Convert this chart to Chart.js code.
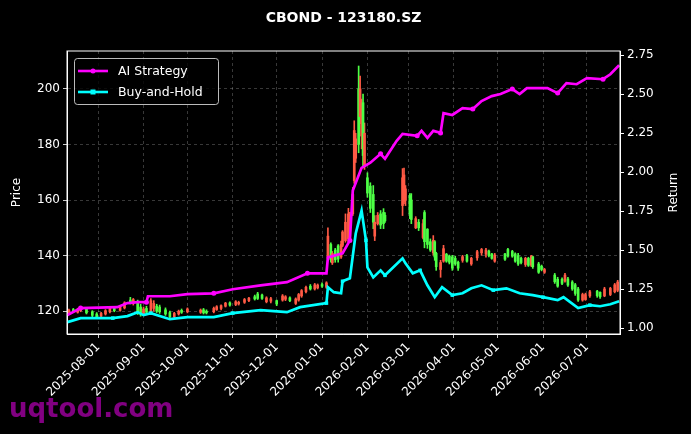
<!DOCTYPE html>
<html>
<head>
<meta charset="utf-8">
<script src="https://cdn.jsdelivr.net/npm/chart.js@4.4.1/dist/chart.umd.min.js"></script>
<style>
  html, body { margin: 0; padding: 0; background: #000; }
</style>
</head>
<body>
<canvas id="c" width="691" height="434"></canvas>
<script>
const chartTitle = "CBOND - 123180.SZ";
const priceLabel = "Price";
const returnLabel = "Return";
const watermark = "uqtool.com";

// daily candles (price, left axis)
const candleDates = [
  "2025-07-12","2025-07-15","2025-07-18","2025-07-20","2025-07-24","2025-07-28","2025-07-31",
  "2025-08-03","2025-08-06","2025-08-09","2025-08-12","2025-08-16","2025-08-19","2025-08-23","2025-08-25","2025-08-28","2025-08-30",
  "2025-09-01","2025-09-03","2025-09-06","2025-09-08","2025-09-10","2025-09-12","2025-09-16","2025-09-19","2025-09-22","2025-09-25","2025-09-27",
  "2025-10-01","2025-10-10","2025-10-12","2025-10-14","2025-10-19","2025-10-21","2025-10-24","2025-10-27","2025-10-30",
  "2025-11-03","2025-11-05","2025-11-09","2025-11-12","2025-11-16","2025-11-18","2025-11-21","2025-11-24","2025-11-27",
  "2025-12-01","2025-12-05","2025-12-07","2025-12-10","2025-12-14","2025-12-16","2025-12-18","2025-12-21","2025-12-24","2025-12-27","2025-12-29",
  "2026-01-01","2026-01-04","2026-01-05","2026-01-07","2026-01-08","2026-01-10","2026-01-12","2026-01-14","2026-01-15","2026-01-17",
  "2026-01-19","2026-01-20","2026-01-22","2026-01-23","2026-01-24","2026-01-26","2026-01-27","2026-01-28","2026-01-29","2026-01-30",
  "2026-02-01","2026-02-03","2026-02-05","2026-02-06","2026-02-08","2026-02-10","2026-02-12","2026-02-13","2026-02-25","2026-02-26","2026-02-27",
  "2026-03-02","2026-03-03","2026-03-06","2026-03-08","2026-03-11","2026-03-12","2026-03-14","2026-03-16","2026-03-18","2026-03-19",
  "2026-03-20","2026-03-23","2026-03-25","2026-03-27","2026-03-29","2026-03-31",
  "2026-04-02","2026-04-04","2026-04-07","2026-04-10","2026-04-13","2026-04-17","2026-04-20","2026-04-23","2026-04-25","2026-04-27","2026-04-29",
  "2026-05-06","2026-05-08","2026-05-11","2026-05-13","2026-05-15","2026-05-17","2026-05-20","2026-05-22","2026-05-24","2026-05-25","2026-05-29","2026-05-31",
  "2026-06-02","2026-06-09","2026-06-11","2026-06-14","2026-06-16","2026-06-18","2026-06-21","2026-06-23","2026-06-25","2026-06-28","2026-06-30",
  "2026-07-03","2026-07-08","2026-07-10","2026-07-13","2026-07-17","2026-07-20","2026-07-22"
];
const candleOpen = [
  119.6,120.6,119.6,120.2,120.8,119.8,119.0,
  118.2,119.0,119.8,121.0,120.3,121.2,124.0,122.8,123.5,121.5,
  119.0,121.0,119.5,121.0,121.8,121.5,120.5,119.5,118.0,119.0,120.3,
  119.8,119.6,120.5,120.0,119.8,120.6,121.0,121.8,123.0,
  122.4,122.6,123.2,123.8,125.2,126.2,125.8,123.4,123.6,
  123.8,124.0,124.3,124.8,122.8,124.0,125.5,127.0,129.0,128.0,128.4,
  129.6,128.6,139.0,144.0,137.4,142.0,143.5,139.5,143.7,145.4,
  146.0,150.0,155.0,167.0,175.0,200.0,190.0,183.0,195.0,172.0,
  168.0,165.0,162.0,147.0,151.5,155.0,155.5,154.5,158.0,159.5,160.0,
  161.6,160.0,150.0,152.0,146.5,155.5,149.5,145.0,141.0,145.0,
  140.8,135.0,138.0,140.5,139.8,139.5,
  139.0,137.6,138.3,140.0,137.0,139.2,141.0,140.5,141.6,140.6,138.0,
  140.6,142.2,141.5,140.6,140.0,139.0,136.8,139.0,136.5,139.6,137.0,136.2,
  134.0,133.0,131.5,131.5,130.8,131.6,130.5,129.5,128.0,124.0,124.2,
  125.5,127.2,126.8,125.5,126.0,127.0,127.5
];
const candleHigh = [
  120.8,121.0,121.1,121.3,121.0,120.2,119.5,
  119.6,120.6,121.3,121.4,121.8,123.4,125.0,124.6,124.0,122.5,
  121.5,121.8,124.5,123.8,122.5,122.2,121.2,120.0,119.6,120.4,120.8,
  121.2,120.8,121.0,120.5,121.5,122.0,122.3,123.2,123.4,
  123.8,123.6,124.6,125.0,125.8,126.8,126.2,125.2,125.0,
  124.0,126.0,125.6,125.2,124.8,126.4,127.8,129.0,129.6,130.0,129.8,
  130.2,130.6,150.0,144.6,141.5,142.6,144.0,145.2,149.0,155.0,
  157.0,155.6,164.5,188.5,184.0,208.2,204.6,196.3,198.1,187.7,
  169.8,166.2,165.2,154.4,155.5,156.2,156.9,155.5,171.3,171.5,165.2,
  162.3,162.3,154.0,153.0,153.0,156.2,149.7,146.0,147.2,145.4,
  141.2,138.3,143.7,140.8,140.2,140.1,
  139.8,138.0,140.1,140.5,139.4,141.9,142.6,142.6,142.0,140.8,140.8,
  140.8,142.6,141.9,141.0,140.8,139.5,139.4,139.4,140.1,139.8,137.6,136.6,
  135.4,133.6,132.2,132.0,133.6,132.2,131.0,130.0,128.6,126.5,126.5,
  127.5,127.5,127.0,128.6,128.6,130.0,131.1
];
const candleLow = [
  119.3,119.5,119.3,119.8,119.0,118.0,117.6,
  117.8,118.6,119.4,119.8,120.0,120.8,122.6,122.2,118.8,118.2,
  118.6,119.0,119.0,120.0,119.5,119.2,118.5,117.6,117.5,118.6,119.2,
  119.4,119.2,119.0,119.0,119.4,120.3,120.5,121.5,121.8,
  122.0,122.2,122.8,123.4,124.0,124.2,124.2,123.0,123.0,
  122.0,123.6,123.8,123.4,122.4,123.6,125.0,126.6,127.6,127.6,128.0,
  128.6,128.2,138.5,137.6,136.8,137.6,137.6,139.0,143.2,144.8,
  145.0,149.5,154.4,166.0,173.5,177.0,187.5,178.4,172.3,171.0,
  161.0,155.5,149.7,145.4,151.0,149.7,149.7,151.9,154.4,158.7,158.0,
  153.3,151.5,149.7,149.0,146.0,142.8,142.6,141.5,140.1,138.3,
  134.7,132.2,137.6,137.6,137.0,134.7,
  136.5,134.7,137.6,137.6,136.5,138.3,140.1,139.4,139.5,138.7,137.6,
  138.3,139.4,139.4,137.6,136.5,137.0,136.1,136.1,136.0,135.4,133.6,134.5,
  133.6,130.0,128.6,129.5,130.4,128.9,127.5,125.7,123.5,123.6,123.9,
  125.0,125.0,124.6,125.2,125.6,126.6,127.0
];
const candleClose = [
  120.4,119.8,120.7,121.0,119.4,118.5,118.0,
  119.2,120.2,121.0,120.2,121.5,123.0,123.0,124.2,119.6,119.0,
  120.8,119.6,123.8,122.8,120.0,119.8,119.0,118.0,119.2,120.0,119.6,
  120.8,120.4,119.4,119.4,121.0,121.6,122.0,122.9,122.2,
  123.4,123.2,124.2,124.7,124.4,124.6,124.6,124.8,124.5,
  122.6,125.5,125.2,123.8,124.4,126.0,127.4,128.6,128.0,129.5,129.4,
  129.0,130.2,147.0,138.5,140.8,138.5,138.8,144.0,148.5,152.0,
  155.0,154.5,162.0,185.0,182.0,180.0,200.0,193.0,176.0,184.0,
  162.5,157.0,152.0,152.0,154.5,151.0,151.5,152.5,168.0,169.0,164.0,
  155.0,153.0,153.3,150.0,151.5,145.0,144.0,142.0,145.5,139.5,
  136.0,137.5,142.5,138.0,137.6,135.5,
  137.0,135.5,139.6,138.0,139.0,141.4,142.2,142.0,140.0,139.0,140.2,
  138.7,139.8,139.8,138.0,137.0,137.5,139.0,136.5,139.8,136.0,134.0,135.0,
  135.0,130.6,129.0,130.0,133.0,129.4,128.0,126.4,124.0,126.0,126.0,
  127.0,125.6,125.2,128.0,128.2,129.5,130.5
];

// cumulative return (right axis)
const stratDates = [
  "2025-07-11","2025-07-20","2025-08-14","2025-08-21","2025-08-28","2025-09-03","2025-09-04","2025-09-19",
  "2025-10-01","2025-10-19","2025-11-01","2025-11-20","2025-12-08","2025-12-22","2026-01-04","2026-01-05",
  "2026-01-15","2026-01-20","2026-01-22","2026-01-28","2026-02-03","2026-02-10","2026-02-13","2026-02-21",
  "2026-02-25","2026-03-07","2026-03-10","2026-03-14","2026-03-18","2026-03-23","2026-03-25","2026-03-31",
  "2026-04-07","2026-04-14","2026-04-20","2026-04-27","2026-05-03","2026-05-11","2026-05-16","2026-05-21",
  "2026-06-04","2026-06-11","2026-06-17","2026-06-24","2026-07-01","2026-07-12","2026-07-17","2026-07-23"
];
const stratReturn = [
  1.083,1.128,1.134,1.160,1.166,1.166,1.204,1.204,
  1.217,1.223,1.249,1.274,1.294,1.351,1.351,1.453,
  1.479,1.562,1.881,2.027,2.060,2.117,2.085,2.200,
  2.244,2.232,2.264,2.219,2.264,2.251,2.378,2.366,
  2.410,2.404,2.455,2.487,2.500,2.532,2.500,2.538,
  2.538,2.506,2.570,2.563,2.602,2.595,2.627,2.685
];
const holdDates = [
  "2025-07-11","2025-07-20","2025-08-11","2025-08-21","2025-08-28","2025-09-01","2025-09-06","2025-09-19",
  "2025-10-01","2025-10-19","2025-11-01","2025-11-20","2025-12-08","2025-12-17","2026-01-04","2026-01-05",
  "2026-01-09","2026-01-14","2026-01-15","2026-01-20","2026-01-24","2026-01-28","2026-01-31","2026-02-01",
  "2026-02-05","2026-02-10","2026-02-13","2026-02-25","2026-02-27","2026-03-04","2026-03-09","2026-03-14",
  "2026-03-19","2026-03-24","2026-03-31","2026-04-07","2026-04-13","2026-04-20","2026-04-28","2026-05-07",
  "2026-05-16","2026-05-25","2026-06-01","2026-06-11","2026-06-15","2026-06-25","2026-07-03","2026-07-10",
  "2026-07-17","2026-07-23"
];
const holdReturn = [
  1.038,1.064,1.064,1.077,1.102,1.083,1.096,1.057,
  1.070,1.070,1.096,1.115,1.102,1.134,1.160,1.262,
  1.230,1.223,1.300,1.319,1.606,1.753,1.562,1.389,
  1.325,1.370,1.338,1.447,1.415,1.351,1.370,1.274,
  1.198,1.262,1.211,1.223,1.255,1.274,1.243,1.255,
  1.223,1.211,1.198,1.179,1.198,1.128,1.147,1.140,
  1.153,1.172
];

const xTickDates = [
  "2025-08-01","2025-09-01","2025-10-01","2025-11-01","2025-12-01","2026-01-01",
  "2026-02-01","2026-03-01","2026-04-01","2026-05-01","2026-06-01","2026-07-01"
];

// x axis is "days since 2025-08-01"
const day0 = Date.UTC(2025, 7, 1);
const toDay = s => (Date.parse(s + "T00:00:00Z") - day0) / 864e5;
const fmtDay = v => new Date(day0 + Math.round(v) * 864e5).toISOString().slice(0, 10);

const UP = "#ff5a45", DOWN = "#4dff45";
const candleColors = candleOpen.map((o, i) => (candleClose[i] >= o ? UP : DOWN));
const wickData = candleDates.map((d, i) => ({ x: toDay(d), y: [candleLow[i], candleHigh[i]] }));
const bodyData = candleDates.map((d, i) => ({ x: toDay(d), y: [candleOpen[i], candleClose[i]] }));
const stratData = stratDates.map((d, i) => ({ x: toDay(d), y: stratReturn[i] }));
const holdData = holdDates.map((d, i) => ({ x: toDay(d), y: holdReturn[i] }));

const FONT = "DejaVu Sans";
Chart.defaults.font.family = FONT;
Chart.defaults.color = "#fff";

const gridColor = "rgba(255,255,255,0.28)";

function vText(ctx, text, x, y) {
  ctx.save();
  ctx.translate(x, y);
  ctx.rotate(-Math.PI / 2);
  ctx.fillText(text, 0, 0);
  ctx.restore();
}

const decor = {
  id: "decor",
  beforeDraw(chart) {
    const ctx = chart.ctx;
    ctx.save();
    ctx.fillStyle = "#000";
    ctx.fillRect(0, 0, chart.width, chart.height);
    ctx.restore();
  },
  afterDraw(chart) {
    const ctx = chart.ctx;
    const a = chart.chartArea;
    ctx.save();
    // frame
    ctx.strokeStyle = "#fff";
    ctx.lineWidth = 1;
    ctx.strokeRect(a.left, a.top, a.right - a.left, a.bottom - a.top);

    // title
    ctx.fillStyle = "#fff";
    ctx.font = "bold 14px '" + FONT + "'";
    ctx.textAlign = "center";
    ctx.textBaseline = "middle";
    ctx.fillText(chartTitle, (a.left + a.right) / 2, 18);

    // axis titles, both reading upwards
    ctx.font = "12px '" + FONT + "'";
    const midY = (a.top + a.bottom) / 2;
    vText(ctx, priceLabel, 17, midY);
    vText(ctx, returnLabel, 674, midY);

    // legend
    const lx = a.left + 7, ly = a.top + 7;
    ctx.beginPath();
    ctx.roundRect(lx + 0.5, ly + 0.5, 144, 46, 3);
    ctx.fillStyle = "rgba(0,0,0,0.8)";
    ctx.fill();
    ctx.strokeStyle = "rgba(220,220,220,0.85)";
    ctx.lineWidth = 1;
    ctx.stroke();
    ctx.font = "12.5px '" + FONT + "'";
    ctx.textAlign = "left";
    chart.data.datasets.filter(ds => ds.type === "line").forEach((ds, i) => {
      const y = ly + 13 + i * 21;
      ctx.strokeStyle = ds.borderColor;
      ctx.lineWidth = 2.6;
      ctx.beginPath();
      ctx.moveTo(lx + 4, y);
      ctx.lineTo(lx + 34, y);
      ctx.stroke();
      ctx.fillStyle = ds.borderColor;
      if (ds.pointStyle === "rect") {
        ctx.fillRect(lx + 19 - 2.5, y - 2.5, 5, 5);
      } else {
        ctx.beginPath();
        ctx.arc(lx + 19, y, 2.5, 0, Math.PI * 2);
        ctx.fill();
      }
      ctx.fillStyle = "#fff";
      ctx.fillText(ds.label, lx + 44, y + 1);
    });

    // watermark
    ctx.font = "bold 26px '" + FONT + "'";
    ctx.fillStyle = "rgba(140,0,140,0.92)";
    ctx.textBaseline = "alphabetic";
    ctx.fillText(watermark, 9, 417);
    ctx.restore();
  }
};

new Chart(document.getElementById("c"), {
  type: "bar",
  data: {
    datasets: [
      {
        type: "line", label: "AI Strategy", data: stratData, yAxisID: "y1", order: 0,
        borderColor: "#ff00ff", backgroundColor: "#ff00ff", borderWidth: 2.7,
        pointStyle: "circle", pointBackgroundColor: "#ff00ff", pointBorderWidth: 0,
        pointRadius: c => (c.dataIndex % 4 === 1 ? 2.5 : 0), tension: 0
      },
      {
        type: "line", label: "Buy-and-Hold", data: holdData, yAxisID: "y1", order: 0,
        borderColor: "#00ffff", backgroundColor: "#00ffff", borderWidth: 2.7,
        pointStyle: "rect", pointBackgroundColor: "#00ffff", pointBorderWidth: 0,
        pointRadius: c => (c.dataIndex % 4 === 2 ? 2.5 : 0), tension: 0
      },
      {
        label: "wick", data: wickData, yAxisID: "y", order: 2,
        backgroundColor: candleColors, barThickness: 1, grouped: false, borderWidth: 0
      },
      {
        label: "body", data: bodyData, yAxisID: "y", order: 1,
        backgroundColor: candleColors, barThickness: 2, grouped: false, borderWidth: 0, minBarLength: 1.5
      }
    ]
  },
  options: {
    responsive: false,
    animation: false,
    layout: { padding: { top: 51, left: 0, right: 0, bottom: 0 } },
    plugins: { legend: { display: false }, title: { display: false }, tooltip: { enabled: false } },
    scales: {
      x: {
        type: "linear", min: -21.3, max: 356.6, offset: false,
        afterBuildTicks: s => { s.ticks = xTickDates.map(d => ({ value: toDay(d) })); },
        afterFit: s => { s.height = 100; },
        ticks: { autoSkip: false, maxRotation: 45, minRotation: 45, color: "#fff", font: { size: 12 }, padding: 2, callback: v => fmtDay(v) },
        grid: { offset: false, color: gridColor, lineWidth: 0.8, tickColor: "#fff", tickLength: 4 },
        border: { color: "#fff", dash: [3, 3] }
      },
      y: {
        position: "left", min: 111.8, max: 213.6,
        afterFit: s => { s.width = 67; },
        ticks: { stepSize: 20, includeBounds: false, color: "#fff", font: { size: 12 }, padding: 3 },
        grid: { color: gridColor, lineWidth: 0.8, tickColor: "#fff", tickLength: 4 },
        border: { color: "#fff", dash: [3, 3] }
      },
      y1: {
        position: "right", min: 0.962, max: 2.776,
        afterFit: s => { s.width = 71; },
        ticks: { stepSize: 0.25, includeBounds: false, color: "#fff", font: { size: 12 }, padding: 3, callback: v => v.toFixed(2) },
        grid: { drawOnChartArea: false, tickColor: "#fff", tickLength: 4 },
        border: { color: "#fff" }
      }
    }
  },
  plugins: [decor]
});
</script>
</body>
</html>
